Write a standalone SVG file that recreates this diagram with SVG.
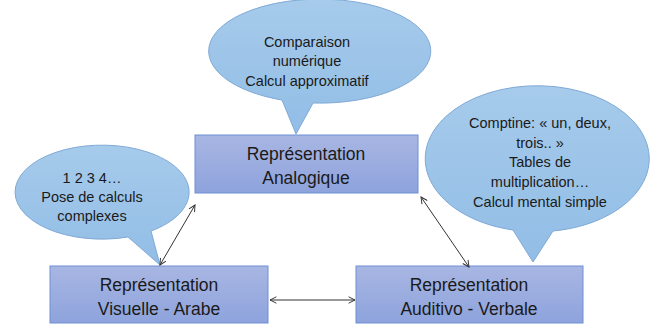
<svg xmlns="http://www.w3.org/2000/svg" width="650" height="324" viewBox="0 0 650 324">
<style>
.bub{fill:url(#gb);stroke:#7FA9D6;stroke-width:1}
.box{fill:url(#gx);stroke:#6F8FD6;stroke-width:1}
.t{font-family:"Liberation Sans",Arial,sans-serif;fill:#1a1a1a;text-anchor:middle}
.s{font-size:14.5px}
.b{font-size:17.5px}
.c{stroke:#333;stroke-width:1;fill:none;marker-start:url(#ah);marker-end:url(#ah)}
</style>
<defs>
<linearGradient id="gb" x1="0" y1="0" x2="0" y2="1"><stop offset="0" stop-color="#A6CBEB"/><stop offset="1" stop-color="#92BDE6"/></linearGradient>
<linearGradient id="gx" x1="0" y1="0" x2="0" y2="1"><stop offset="0" stop-color="#A8B6E2"/><stop offset="1" stop-color="#8EA3DD"/></linearGradient>
<marker id="ah" viewBox="0 0 10 10" refX="9" refY="5" markerWidth="8" markerHeight="8" orient="auto-start-reverse" markerUnits="userSpaceOnUse"><path d="M1,1 L9,5 L1,9" fill="none" stroke="#333" stroke-width="1.2"/></marker>
</defs>
<g id="bubble-top">
<path class="bub" d="M282,100 A111,52 0 1 1 313,103 L296,134 Z"/>
<text class="t s" x="307" y="47">Comparaison</text>
<text class="t s" x="307" y="66">numérique</text>
<text class="t s" x="307" y="86">Calcul approximatif</text>
</g>
<g id="bubble-left">
<path class="bub" d="M128,237 A87,47 0 1 1 151,231 L160,265 Z"/>
<text class="t s" x="92" y="183">1 2 3 4…</text>
<text class="t s" x="92" y="202">Pose de calculs</text>
<text class="t s" x="92" y="221">complexes</text>
</g>
<g id="bubble-right">
<path class="bub" d="M513,230 A112,73 0 1 1 553,231 L533,262 Z"/>
<text class="t s" x="540" y="128">Comptine: « un, deux,</text>
<text class="t s" x="540" y="148">trois.. »</text>
<text class="t s" x="540" y="167">Tables de</text>
<text class="t s" x="540" y="187">multiplication…</text>
<text class="t s" x="540" y="207">Calcul mental simple</text>
</g>
<g id="node-analogique">
<rect class="box" x="195" y="135" width="223" height="58"/>
<text class="t b" x="306" y="160">Représentation</text>
<text class="t b" x="306" y="184">Analogique</text>
</g>
<g id="node-visuelle">
<rect class="box" x="50" y="266" width="218" height="57"/>
<text class="t b" x="159" y="291">Représentation</text>
<text class="t b" x="159" y="315">Visuelle - Arabe</text>
</g>
<g id="node-auditivo">
<rect class="box" x="356" y="266" width="227" height="57"/>
<text class="t b" x="469" y="291">Représentation</text>
<text class="t b" x="469" y="315">Auditivo - Verbale</text>
</g>
<g id="connectors">
<line class="c" x1="195" y1="205" x2="160" y2="265"/>
<line class="c" x1="421" y1="197" x2="469" y2="267"/>
<line class="c" x1="270" y1="300" x2="355" y2="300"/>
</g>
</svg>
